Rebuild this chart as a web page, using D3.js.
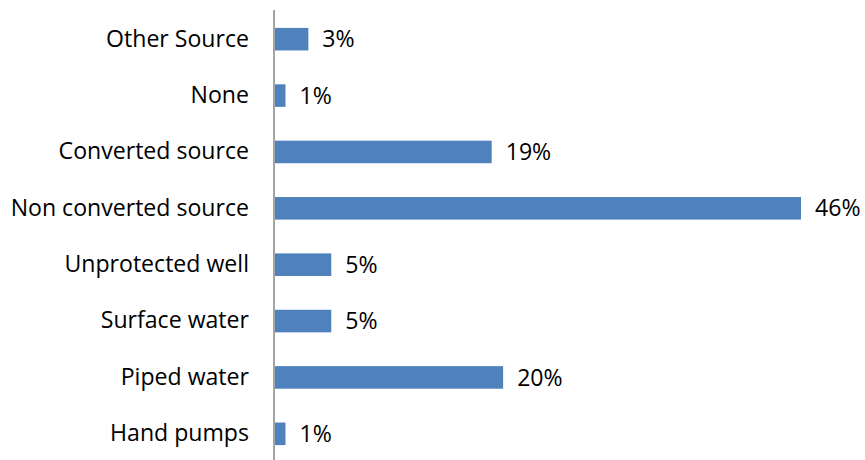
<!DOCTYPE html>
<html>
<head>
<meta charset="utf-8">
<script src="https://cdn.jsdelivr.net/npm/d3@7"></script>
<style>
  html, body { margin: 0; padding: 0; background: #fff; }
  svg { display: block; }
  text { font-family: "Open Sans", "Noto Sans", sans-serif; fill: #000; }
</style>
</head>
<body>
<svg id="chart" width="865" height="460"></svg>
<script>
// Water source categories, top to bottom
const categories = [
  "Other Source",
  "None",
  "Converted source",
  "Non converted source",
  "Unprotected well",
  "Surface water",
  "Piped water",
  "Hand pumps"
];
// Share of households (%)
const shares = [3, 1, 19, 46, 5, 5, 20, 1];

const data = categories.map((c, i) => ({ name: c, value: shares[i] }));

const svg = d3.select("#chart");
const width = 865, height = 460;
const axisX = 274;
const fontSize = 23.1;

const y = d3.scaleBand()
  .domain(categories)
  .range([11, 462])
  .paddingInner(0.6)
  .paddingOuter(0.3);

const x = d3.scaleLinear()
  .domain([0, 46])
  .range([axisX, 801]);

// Bars
svg.append("g")
  .selectAll("rect")
  .data(data)
  .join("rect")
  .attr("x", x(0) + 1)
  .attr("y", d => y(d.name))
  .attr("width", d => x(d.value) - x(0) - 1)
  .attr("height", y.bandwidth())
  .attr("fill", "#4F81BD");

// Vertical category axis
const yAxis = d3.axisLeft(y).tickSize(0).tickPadding(25);
const gy = svg.append("g")
  .attr("transform", `translate(${axisX},0)`)
  .call(yAxis);
gy.select(".domain").remove();
gy.append("line")
  .attr("x1", 0).attr("x2", 0)
  .attr("y1", 10).attr("y2", height)
  .attr("stroke", "#868686")
  .attr("stroke-width", 1.5);
gy.selectAll(".tick text")
  .attr("font-size", fontSize)
  .attr("fill", "#000")
  .style("font-family", "'Open Sans', 'Noto Sans', sans-serif");

// Value labels
svg.append("g")
  .selectAll("text")
  .data(data)
  .join("text")
  .attr("x", d => x(d.value) + 14)
  .attr("y", d => y(d.name) + y.bandwidth() / 2)
  .attr("dy", "0.35em")
  .attr("font-size", fontSize)
  .text(d => d.value + "%");
</script>
</body>
</html>
